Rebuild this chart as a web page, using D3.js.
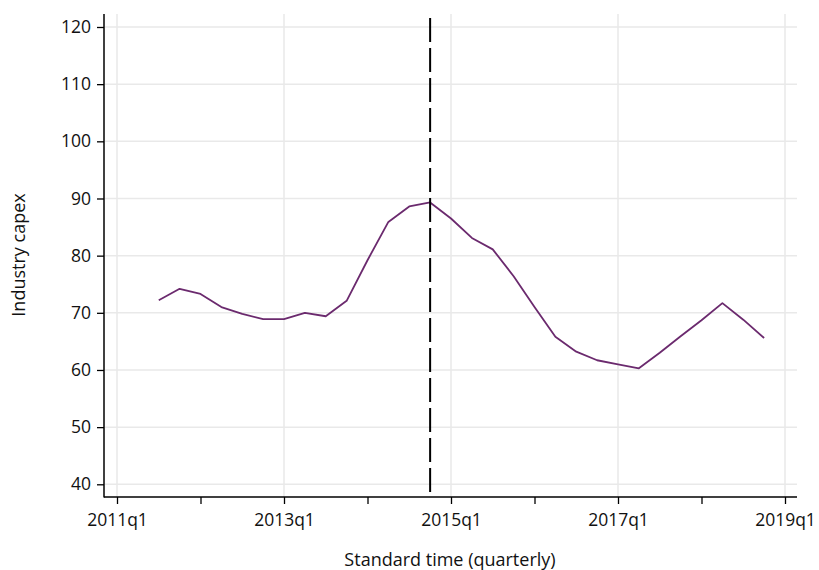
<!DOCTYPE html>
<html>
<head>
<meta charset="utf-8">
<script src="https://cdn.jsdelivr.net/npm/d3@7"></script>
<style>
  html, body { margin: 0; padding: 0; background: #fff; }
  svg text { font-family: "Open Sans", "Noto Sans", sans-serif; fill: #111; }
</style>
</head>
<body>
<svg id="chart" width="819" height="570"></svg>
<script>
// Quarterly industry capex, quarters counted from 2011q1 = 0
const quarters = ["2011q3","2011q4","2012q1","2012q2","2012q3","2012q4",
  "2013q1","2013q2","2013q3","2013q4","2014q1","2014q2","2014q3","2014q4",
  "2015q1","2015q2","2015q3","2015q4","2016q1","2016q2","2016q3","2016q4",
  "2017q1","2017q2","2017q3","2017q4","2018q1","2018q2","2018q3","2018q4"];
const capex = [72.2, 74.2, 73.3, 71.0, 69.8, 68.9,
  68.9, 70.0, 69.4, 72.1, 79.2, 85.9, 88.6, 89.3,
  86.5, 83.1, 81.1, 76.4, 71.0, 65.8, 63.2, 61.7,
  61.0, 60.3, 63.0, 65.9, 68.7, 71.7, 68.8, 65.6];
const eventQuarter = "2014q4";
const yTicks = [40, 50, 60, 70, 80, 90, 100, 110, 120];
const xMajorTicks = ["2011q1","2013q1","2015q1","2017q1","2019q1"];
const xMinorTicks = ["2012q1","2014q1","2016q1","2018q1"];

// "YYYYqN" -> quarter index relative to 2011q1
const qIndex = s => (+s.slice(0, 4) - 2011) * 4 + (+s.slice(5) - 1);

const svg = d3.select("#chart");
const plot = { left: 104, right: 797, top: 14, bottom: 497 };

const x = d3.scaleLinear().domain([0, 32]).range([117, 785]);
const y = d3.scaleLinear().domain([40, 120]).range([484.3, 27]);

const gridColor = "#e9e9e9";
const tickFont = 17.5;

// horizontal grid
svg.append("g").selectAll("line").data(yTicks).join("line")
  .attr("x1", plot.left + 1).attr("x2", plot.right)
  .attr("y1", d => y(d)).attr("y2", d => y(d))
  .attr("stroke", gridColor).attr("stroke-width", 1.5);

// vertical grid at labelled ticks
svg.append("g").selectAll("line").data(xMajorTicks).join("line")
  .attr("x1", d => x(qIndex(d))).attr("x2", d => x(qIndex(d)))
  .attr("y1", plot.top).attr("y2", plot.bottom)
  .attr("stroke", gridColor).attr("stroke-width", 1.5);

// y axis
const yAxis = d3.axisLeft(y).tickValues(yTicks).tickSize(7).tickPadding(6);
const gy = svg.append("g").attr("transform", `translate(${plot.left},0)`).call(yAxis);
gy.select(".domain").remove();
gy.selectAll(".tick line").attr("stroke", "#000").attr("stroke-width", 1.3);
gy.selectAll(".tick text").attr("font-size", tickFont).attr("font-family", "Open Sans").attr("fill", "#111");
svg.append("line").attr("x1", plot.left).attr("x2", plot.left)
  .attr("y1", plot.top).attr("y2", plot.bottom + 0.5)
  .attr("stroke", "#000").attr("stroke-width", 1.5);

// x axis
const xAxis = d3.axisBottom(x)
  .tickValues(xMajorTicks.concat(xMinorTicks).map(qIndex))
  .tickFormat(d => xMajorTicks.map(qIndex).includes(d) ? `${2011 + d / 4}q1` : "")
  .tickSize(7).tickPadding(10);
const gx = svg.append("g").attr("transform", `translate(0,${plot.bottom})`).call(xAxis);
gx.select(".domain").remove();
gx.selectAll(".tick line").attr("stroke", "#000").attr("stroke-width", 1.3);
gx.selectAll(".tick text").attr("font-size", tickFont).attr("font-family", "Open Sans").attr("fill", "#111");
svg.append("line").attr("x1", plot.left).attr("x2", plot.right)
  .attr("y1", plot.bottom).attr("y2", plot.bottom)
  .attr("stroke", "#000").attr("stroke-width", 1.5);

// capex series
const line = d3.line().x((d, i) => x(qIndex(quarters[i]))).y(d => y(d));
svg.append("path").datum(capex)
  .attr("d", line).attr("fill", "none")
  .attr("stroke", "#6b2a6e").attr("stroke-width", 1.8)
  .attr("stroke-linejoin", "round");

// event marker
svg.append("line")
  .attr("x1", x(qIndex(eventQuarter))).attr("x2", x(qIndex(eventQuarter)))
  .attr("y1", 18).attr("y2", plot.bottom)
  .attr("stroke", "#000").attr("stroke-width", 2)
  .attr("stroke-dasharray", "24,6");

// axis titles
svg.append("text").attr("x", 450).attr("y", 566)
  .attr("text-anchor", "middle").attr("font-size", 18)
  .text("Standard time (quarterly)");
svg.append("text").attr("transform", "translate(25,255) rotate(-90)")
  .attr("text-anchor", "middle").attr("font-size", 18)
  .text("Industry capex");
</script>
</body>
</html>
